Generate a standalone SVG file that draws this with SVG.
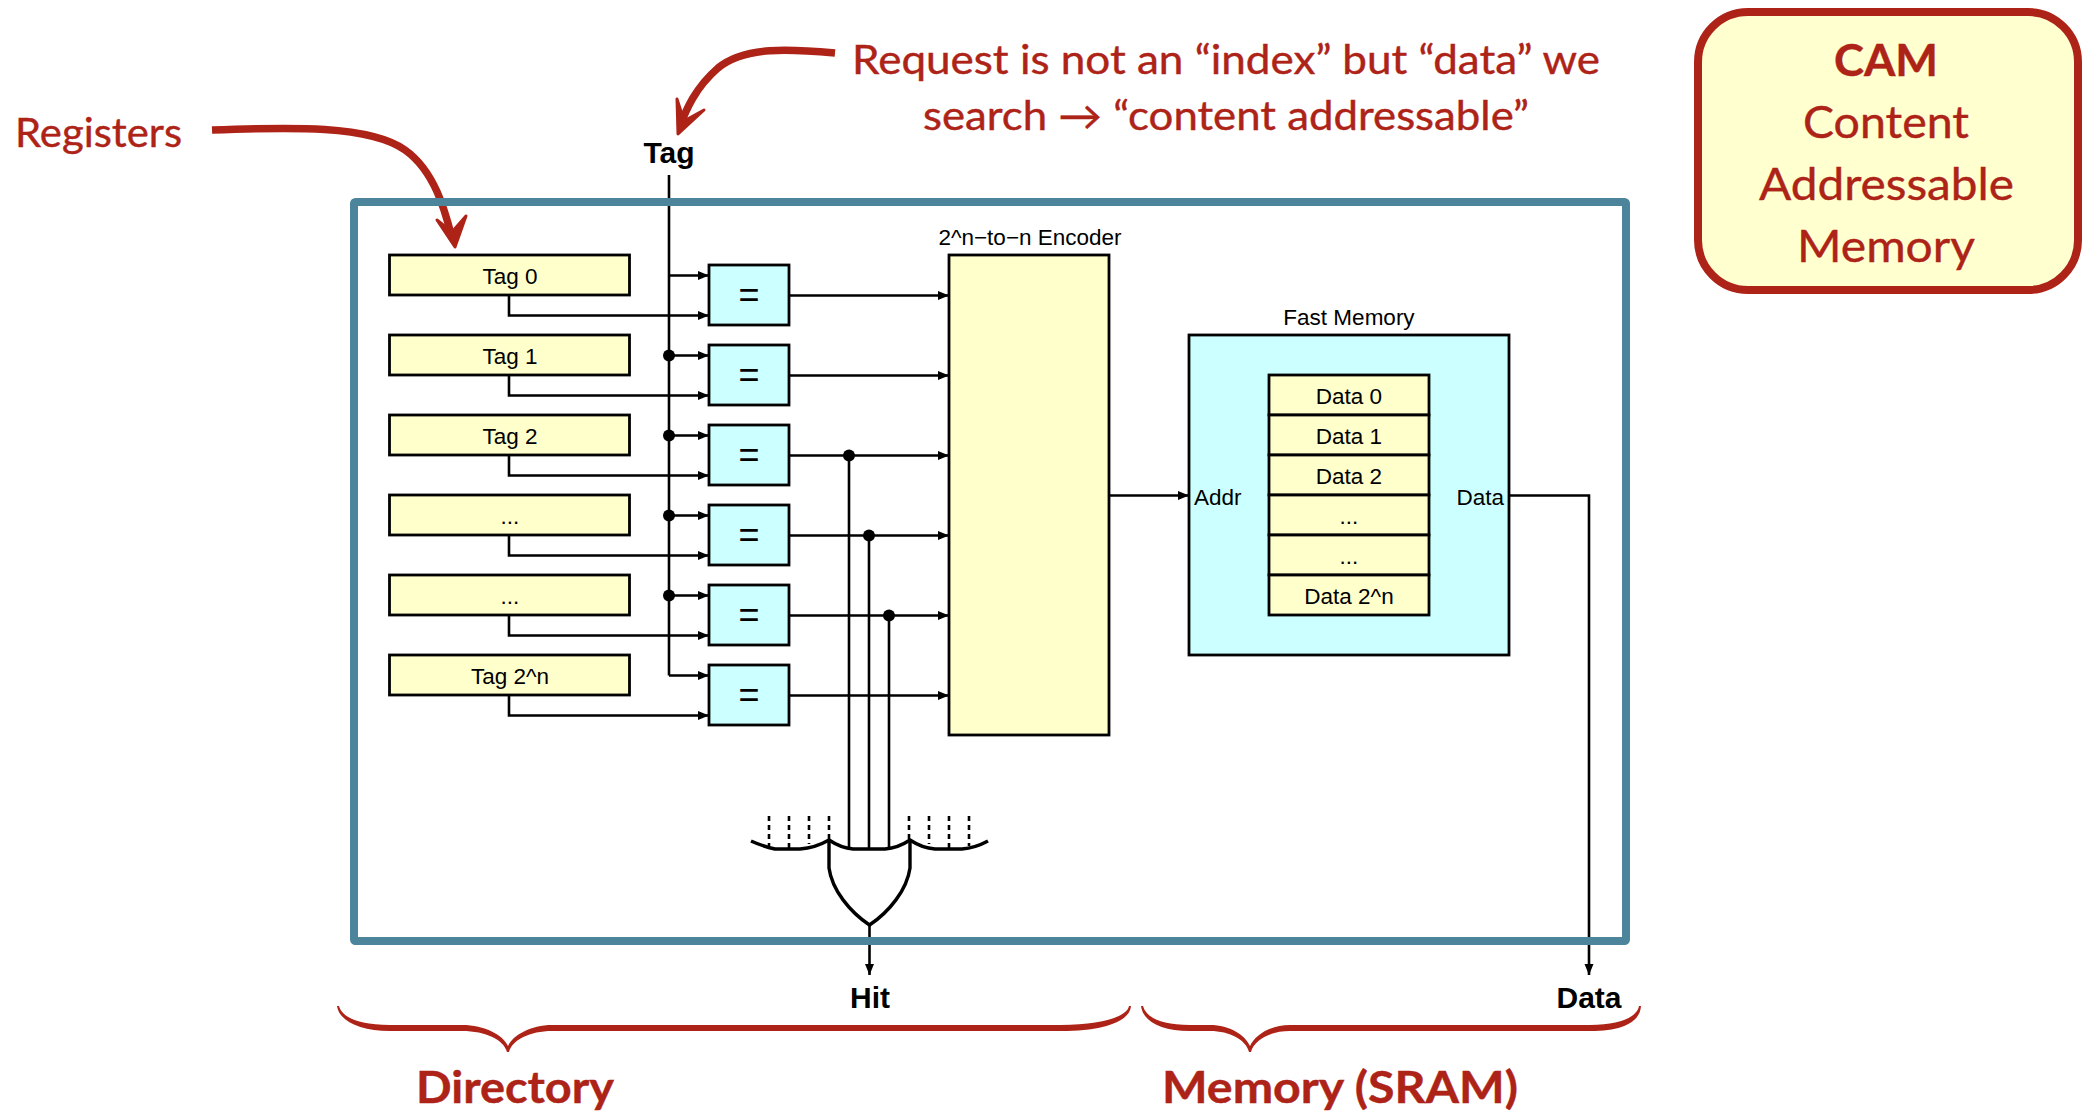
<svg xmlns="http://www.w3.org/2000/svg" width="2100" height="1120" viewBox="0 0 2100 1120">
<style>
.y{fill:#ffffcc;stroke:#000;stroke-width:2.8}
.c{fill:#ccffff;stroke:#000;stroke-width:2.8}
.t{font-family:"Liberation Sans",Arial,sans-serif;font-size:22.5px;fill:#000;text-anchor:middle}
.b{font-family:"Liberation Sans",Arial,sans-serif;font-size:30px;font-weight:700;fill:#000;text-anchor:middle}
.eq{font-family:"Liberation Sans",Arial,sans-serif;font-size:36px;fill:#000;text-anchor:middle}
.r{font-family:Lato,"DejaVu Sans",sans-serif;font-size:40px;fill:#ae2317;stroke:#ae2317;stroke-width:.4;text-anchor:start}
.n{font-size:45px}
.rb{font-weight:700;font-size:44px}
.w{fill:none;stroke:#000;stroke-width:2.6}
.a{fill:none;stroke:#000;stroke-width:2.6;marker-end:url(#ah)}
.d{fill:#000}
.g{fill:none;stroke:#000;stroke-width:3.4;stroke-linejoin:round}
.dot{fill:none;stroke:#000;stroke-width:2.6;stroke-dasharray:5 4}
.ra{fill:none;stroke:#ae2317;stroke-width:7.5}
.rh{fill:#ae2317;stroke:#ae2317;stroke-width:3;stroke-linejoin:round}
</style>
<defs>
<marker id="ah" markerUnits="userSpaceOnUse" markerWidth="12" markerHeight="10" refX="11" refY="5" orient="auto"><path d="M0,0.5 L11,5 L0,9.5 Z" fill="#000"/></marker>
</defs>
<rect width="2100" height="1120" fill="#fff"/>

<g id="registers">
<g id="reg-0"><rect class="y" x="389.5" y="255" width="240" height="40"/><text class="t" x="510" y="284">Tag 0</text></g>
<g id="reg-1"><rect class="y" x="389.5" y="335" width="240" height="40"/><text class="t" x="510" y="364">Tag 1</text></g>
<g id="reg-2"><rect class="y" x="389.5" y="415" width="240" height="40"/><text class="t" x="510" y="444">Tag 2</text></g>
<g id="reg-3"><rect class="y" x="389.5" y="495" width="240" height="40"/><text class="t" x="510" y="524">...</text></g>
<g id="reg-4"><rect class="y" x="389.5" y="575" width="240" height="40"/><text class="t" x="510" y="604">...</text></g>
<g id="reg-5"><rect class="y" x="389.5" y="655" width="240" height="40"/><text class="t" x="510" y="684">Tag 2^n</text></g>
</g>

<g id="comparators">
<g id="cmp-0"><rect class="c" x="709" y="265" width="80" height="60"/><text class="eq" x="749" y="307">=</text></g>
<g id="cmp-1"><rect class="c" x="709" y="345" width="80" height="60"/><text class="eq" x="749" y="387">=</text></g>
<g id="cmp-2"><rect class="c" x="709" y="425" width="80" height="60"/><text class="eq" x="749" y="467">=</text></g>
<g id="cmp-3"><rect class="c" x="709" y="505" width="80" height="60"/><text class="eq" x="749" y="547">=</text></g>
<g id="cmp-4"><rect class="c" x="709" y="585" width="80" height="60"/><text class="eq" x="749" y="627">=</text></g>
<g id="cmp-5"><rect class="c" x="709" y="665" width="80" height="60"/><text class="eq" x="749" y="707">=</text></g>
</g>

<g id="encoder"><rect class="y" x="949" y="255" width="160" height="480"/><text class="t" x="1030" y="245">2^n−to−n Encoder</text></g>

<g id="fast-memory">
<text class="t" x="1349" y="325">Fast Memory</text>
<rect class="c" x="1189" y="335" width="320" height="320"/>
<rect class="y" x="1269" y="375" width="160" height="40"/><text class="t" x="1349" y="404">Data 0</text>
<rect class="y" x="1269" y="415" width="160" height="40"/><text class="t" x="1349" y="444">Data 1</text>
<rect class="y" x="1269" y="455" width="160" height="40"/><text class="t" x="1349" y="484">Data 2</text>
<rect class="y" x="1269" y="495" width="160" height="40"/><text class="t" x="1349" y="524">...</text>
<rect class="y" x="1269" y="535" width="160" height="40"/><text class="t" x="1349" y="564">...</text>
<rect class="y" x="1269" y="575" width="160" height="40"/><text class="t" x="1349" y="604">Data 2^n</text>
<text class="t" style="text-anchor:start" x="1194" y="505">Addr</text>
<text class="t" style="text-anchor:end" x="1504" y="505">Data</text>
</g>

<g id="or-gate">
<path class="g" d="M751,841 Q762,846 775,849 H800 Q815,848 829,840 Q841,848 853,849 H885 Q898,848 910,840 Q922,848 935,849 H962 Q975,848 988,841"/>
<path class="g" d="M829,840 V868 C832,890 850,912 869.5,925 C889,912 907,890 910,868 V840"/>
<path class="dot" d="M769,816 V846 M789,816 V848 M809,816 V844 M829,816 V840 M909,816 V840 M929,816 V844 M949,816 V848 M969,816 V846"/>
</g>

<g id="connectors">
<path class="w" d="M669,175 V675.5"/>
<path class="a" d="M669,275.5 H709"/><path class="a" d="M669,355.5 H709"/><path class="a" d="M669,435.5 H709"/><path class="a" d="M669,515.5 H709"/><path class="a" d="M669,595.5 H709"/><path class="a" d="M669,675.5 H709"/>
<path class="a" d="M509,295 V315.5 H709"/><path class="a" d="M509,375 V395.5 H709"/><path class="a" d="M509,455 V475.5 H709"/><path class="a" d="M509,535 V555.5 H709"/><path class="a" d="M509,615 V635.5 H709"/><path class="a" d="M509,695 V715.5 H709"/>
<path class="a" d="M789,295.5 H949"/><path class="a" d="M789,375.5 H949"/><path class="a" d="M789,455.5 H949"/><path class="a" d="M789,535.5 H949"/><path class="a" d="M789,615.5 H949"/><path class="a" d="M789,695.5 H949"/>
<path class="w" d="M849,455 V848 M869,535 V848 M889,615 V848"/>
<circle class="d" cx="669" cy="355.5" r="6"/><circle class="d" cx="669" cy="435.5" r="6"/><circle class="d" cx="669" cy="515.5" r="6"/><circle class="d" cx="669" cy="595.5" r="6"/>
<circle class="d" cx="849" cy="455.5" r="6"/><circle class="d" cx="869" cy="535.5" r="6"/><circle class="d" cx="889" cy="615.5" r="6"/>
<path class="a" d="M1109,495.5 H1189"/>
<path class="a" d="M1509,495.5 H1589 V975"/>
<path class="a" d="M869.5,925 V975"/>
</g>

<g id="annotations">
<text class="r" x="15" y="147" textLength="167" lengthAdjust="spacingAndGlyphs">Registers</text>
<path class="ra" d="M212,130 C290,127 370,125 405,150 C436,172 446,215 452,238"/>
<path class="rh" d="M437,220 L455,247 L466,216 L452,232 Z"/>
<text class="r" x="852" y="74" textLength="748" lengthAdjust="spacingAndGlyphs">Request is not an “index” but “data” we</text>
<text class="r" x="923" y="130" textLength="606" lengthAdjust="spacingAndGlyphs">search → “content addressable”</text>
<path class="ra" d="M835,53 C790,49 745,46 718,68 C695,88 686,110 680,126"/>
<path class="rh" d="M677,99 L678,134 L704,110 L684,121 Z"/>
<g id="cam-note">
<rect x="1698" y="12" width="380" height="278" rx="50" fill="#ffffcf" stroke="#ae2317" stroke-width="8"/>
<text class="r n rb" x="1834" y="76" textLength="104" lengthAdjust="spacingAndGlyphs">CAM</text>
<text class="r n" x="1803" y="138" textLength="166" lengthAdjust="spacingAndGlyphs">Content</text>
<text class="r n" x="1759" y="200" textLength="255" lengthAdjust="spacingAndGlyphs">Addressable</text>
<text class="r n" x="1797" y="262" textLength="178" lengthAdjust="spacingAndGlyphs">Memory</text>
</g>
<g id="directory-brace">
<path d="M339,1006 C342,1017 358,1025 390,1025 H462 C485,1025 503,1035 508,1046 C513,1035 531,1025 552,1025 H1061 C1100,1025 1127,1017 1129,1006 H1131 C1130,1021 1105,1031 1061,1031 H552 C530,1031 512,1040 509,1052 H507 C504,1040 486,1031 462,1031 H390 C360,1031 339,1021 337,1006 Z" fill="#ae2317"/>
<text class="r rb" x="416" y="1103" textLength="198" lengthAdjust="spacingAndGlyphs">Directory</text>
</g>
<g id="memory-brace">
<path d="M1143,1006 C1146,1017 1160,1025 1190,1025 H1210 C1230,1025 1245,1035 1250,1046 C1255,1035 1270,1025 1290,1025 H1590 C1620,1025 1637,1017 1639,1006 H1641 C1640,1021 1625,1031 1590,1031 H1290 C1270,1031 1254,1040 1251,1052 H1249 C1246,1040 1230,1031 1210,1031 H1190 C1160,1031 1143,1021 1141,1006 Z" fill="#ae2317"/>
<text class="r rb" x="1162" y="1103" textLength="356" lengthAdjust="spacingAndGlyphs">Memory (SRAM)</text>
</g>
</g>

<g id="cache-frame"><rect x="354" y="202" width="1272" height="739" rx="1.5" fill="none" stroke="#4b849b" stroke-width="8"/></g>

<g id="io-labels">
<text class="b" x="669" y="163">Tag</text>
<text class="b" x="870" y="1008">Hit</text>
<text class="b" x="1589" y="1008">Data</text>
</g>
</svg>
